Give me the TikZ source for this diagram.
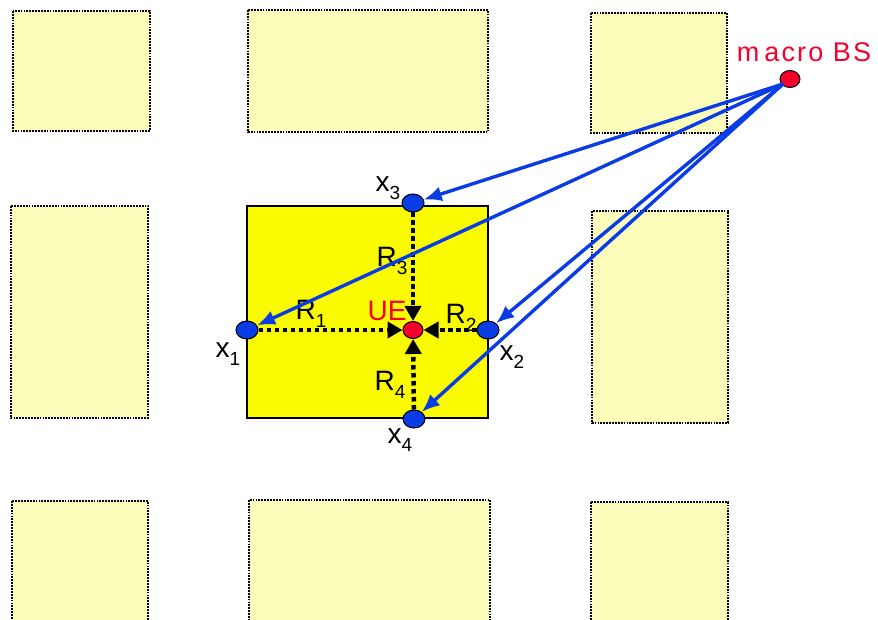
\documentclass[tikz,border=0pt]{standalone}
\usepackage{fontspec}
\setmainfont{Liberation Sans}
\usetikzlibrary{positioning,arrows.meta,shapes.geometric}
\definecolor{bldgyellow}{RGB}{252,252,187}
\definecolor{cellyellow}{RGB}{250,250,0}
\definecolor{ptblue}{RGB}{10,60,230}
\definecolor{ptred}{RGB}{245,0,45}
\newcommand{\sublbl}[2]{#1\raisebox{-0.3em}{\fontsize{19}{19}\selectfont #2}}
\tikzset{
  building/.style={draw=black, fill=bldgyellow, line width=1.8pt, dash pattern=on 1.8pt off 1.1pt},
  cellbox/.style={draw=black, fill=cellyellow, line width=1.5pt},
  bluedot/.style={ellipse, draw=black, fill=ptblue, line width=1pt, minimum width=22pt, minimum height=18pt, inner sep=0pt},
  reddot/.style={ellipse, draw=black, fill=ptred, line width=1pt, minimum width=20pt, minimum height=17pt, inner sep=0pt},
  bsarrow/.style={-{Latex[length=18pt,width=15pt]}, line width=3.4pt, draw=ptblue},
  rayarrow/.style={-{Triangle[length=15pt,width=16pt]}, line width=4.5pt, dash pattern=on 4.5pt off 3.5pt, black},
  lbl/.style={font=\fontsize{28}{28}\selectfont, inner sep=0pt},
  redlbl/.style={lbl, text=ptred}
}
\begin{document}
\begin{tikzpicture}[x=1pt, y=-1pt]
  \useasboundingbox (0,0) rectangle (878,620);
  \clip (0,0) rectangle (878,620);
  % surrounding buildings
  \foreach \xa/\ya/\xb/\yb in {13/11/150/131, 248/10/488/132, 591/13/727/133,
      11/206/148/418, 592/211/728/423,
      12/501/148/630, 249/500/490/630, 591/502/728/630}
    \draw[building] (\xa,\ya) rectangle (\xb,\yb);
  % serving building
  \draw[cellbox] (247,206) rectangle (488,418);
  % labels
  \node[lbl] (lx1) at (228,354) {\sublbl{x}{1}};
  \node[lbl] (lx2) at (512,357) {\sublbl{x}{2}};
  \node[lbl] (lx3) at (388,188) {\sublbl{x}{3}};
  \node[lbl] (lx4) at (400,440) {\sublbl{x}{4}};
  \node[lbl] (lr1) at (311,314) {\sublbl{R}{1}};
  \node[lbl] (lr2) at (461,318) {\sublbl{R}{2}};
  \node[lbl] (lr3) at (392,261) {\sublbl{R}{3}};
  \node[lbl] (lr4) at (390,385) {\sublbl{R}{4}};
  \node[redlbl] (lue) at (387,311) {UE};
  \node[redlbl, font=\fontsize{27}{27}\selectfont\addfontfeature{LetterSpace=8}] (lbs) at (804,52) {m\kern5pt acro BS};
  % nodes
  \node[bluedot] (x1) at (247,330) {};
  \node[bluedot] (x2) at (488,330) {};
  \node[bluedot] (x3) at (413,203) {};
  \node[bluedot] (x4) at (414,419) {};
  \node[reddot] (ue) at (413,330) {};
  \node[reddot] (bs) at (790,79) {};
  \coordinate (bsfoot) at (783,84);
  % rays to the UE
  \draw[rayarrow] (x1) -- (ue);
  \draw[rayarrow] (x2) -- (ue);
  \draw[rayarrow] (x3) -- (ue);
  \draw[rayarrow] (x4) -- (ue);
  % macro BS links
  \draw[bsarrow] (bsfoot) -- (x3);
  \draw[bsarrow] (bsfoot) -- (x1);
  \draw[bsarrow] (bsfoot) -- (x2);
  \draw[bsarrow] (bsfoot) -- (x4);
\end{tikzpicture}
\end{document}
